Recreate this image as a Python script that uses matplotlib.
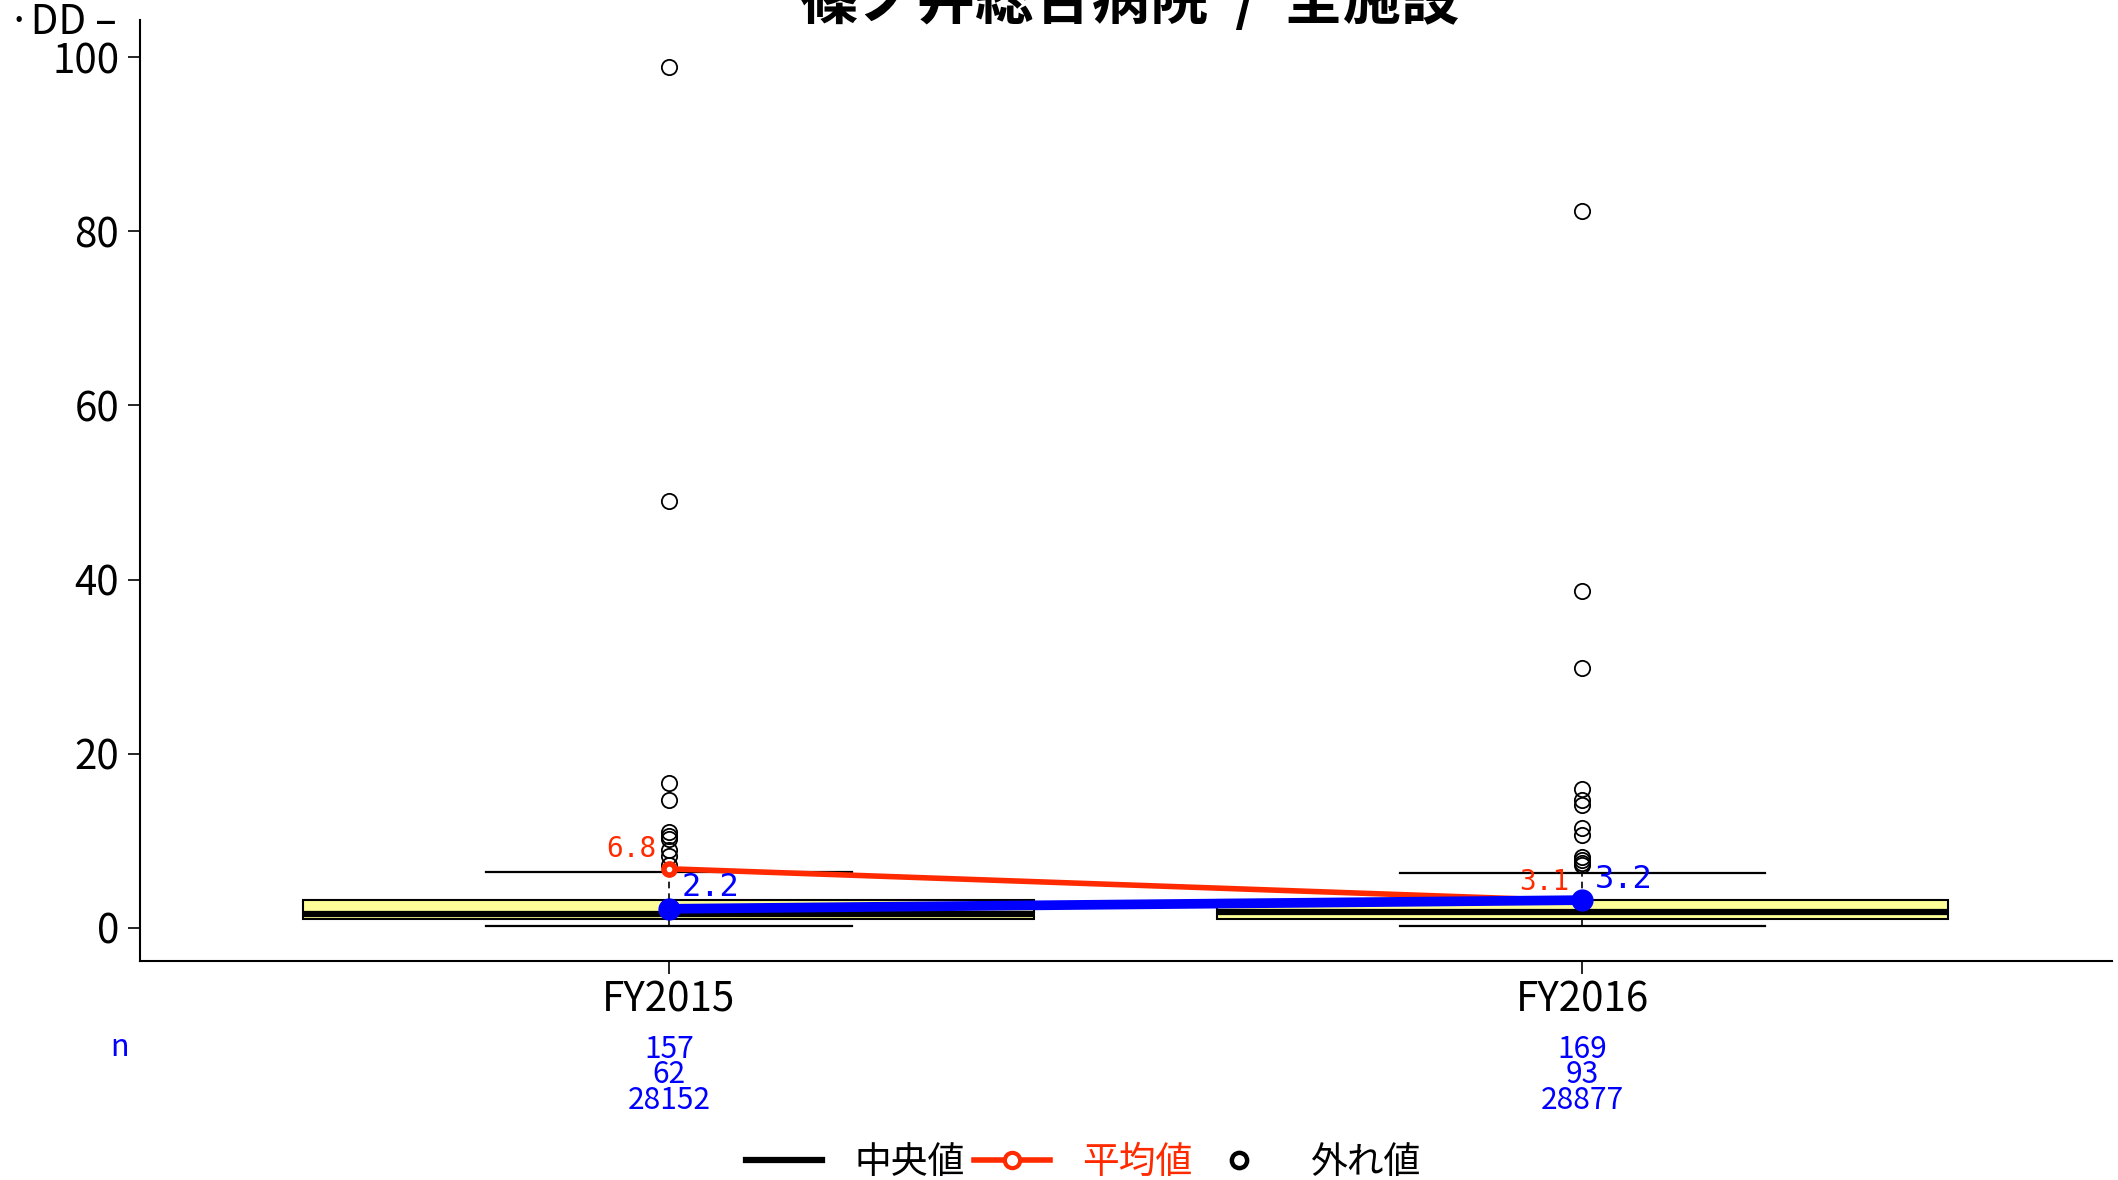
import matplotlib
matplotlib.use("Agg")
import matplotlib.pyplot as plt
from matplotlib.lines import Line2D

plt.rcParams['font.family'] = ['Liberation Sans Narrow', 'Noto Sans CJK JP', 'DejaVu Sans']

# ---- data ----
categories = ["FY2015", "FY2016"]
q1 = [1.0, 1.0]
median = [1.6, 1.8]
q3 = [3.2, 3.2]
whisker_lo = [0.2, 0.2]
whisker_hi = [6.4, 6.3]
outliers_2015 = [98.8, 49.0, 16.6, 14.7, 11.0, 10.6, 10.2, 9.0, 8.3, 7.2]
outliers_2016 = [82.3, 38.7, 29.9, 16.0, 14.7, 14.1, 11.5, 10.7, 8.2, 7.8, 7.5, 7.2]
mean_all = [6.8, 3.1]        # 平均値 (red)
hospital = [2.2, 3.2]        # 病院 (blue)
n_line1 = ["157", "169"]
n_line2 = ["62", "93"]
n_line3 = ["28152", "28877"]
title = "篠ノ井総合病院  /  全施設"
yticks = [0, 20, 40, 60, 80, 100]

RED = "#ff2a00"
BLUE = "#0000ff"

fig = plt.figure(figsize=(21.18, 11.80), dpi=100)
ax = fig.add_axes([140 / 2118, 1 - 961 / 1180, (2112 - 140) / 2118, (961 - 20) / 1180])

positions = [1, 2]
stats = []
for i, cat in enumerate(categories):
    stats.append(dict(med=median[i], q1=q1[i], q3=q3[i], whislo=whisker_lo[i],
                      whishi=whisker_hi[i],
                      fliers=[outliers_2015, outliers_2016][i], label=cat))

ax.bxp(stats, positions=positions, widths=0.8, capwidths=0.4, patch_artist=True,
       showfliers=True,
       boxprops=dict(facecolor="#ffff99", edgecolor="black", linewidth=1.5),
       medianprops=dict(color="black", linewidth=4.5, solid_capstyle="butt"),
       whiskerprops=dict(color="black", linestyle=(0, (4, 3)), linewidth=1.2),
       capprops=dict(color="black", linewidth=1.6),
       flierprops=dict(marker="o", markerfacecolor="none", markeredgecolor="black",
                       markersize=11, markeredgewidth=1.3, linestyle="none"))

# mean line (red)
ax.plot(positions, mean_all, color=RED, linewidth=4, zorder=5)
ax.plot(positions, mean_all, linestyle="none", marker="o", markersize=11,
        markerfacecolor=RED, markeredgecolor=RED, zorder=6)
ax.plot(positions, mean_all, linestyle="none", marker="o", markersize=3,
        markerfacecolor="white", markeredgecolor="white", zorder=7)
# hospital line (blue)
ax.plot(positions, hospital, color=BLUE, linewidth=7, marker="o", markersize=15,
        markerfacecolor=BLUE, markeredgecolor=BLUE, zorder=8)

for x, v in zip(positions, mean_all):
    ax.annotate(f"{v:.1f}", (x, v), xytext=(-9, 14), textcoords="offset points",
                ha="right", va="center", color=RED, fontsize=20,
                family=["DejaVu Sans Mono"], zorder=9)
for x, v in zip(positions, hospital):
    ax.annotate(f"{v:.1f}", (x, v), xytext=(9, 15), textcoords="offset points",
                ha="left", va="center", color=BLUE, fontsize=23,
                family=["DejaVu Sans Mono"], zorder=9)

ax.set_xlim(0.421, 2.58)
ax.set_ylim(-3.79, 104.25)
ax.set_yticks(yticks)
ax.set_xticks(positions)
ax.set_xticklabels(categories)
ax.tick_params(axis="both", labelsize=29, length=9, width=1.2, colors="black")
ax.tick_params(axis="x", pad=4)
ax.tick_params(axis="y", pad=6)
for s in ["top", "right"]:
    ax.spines[s].set_visible(False)
for s in ["left", "bottom"]:
    ax.spines[s].set_linewidth(1.5)

# n labels
fig.text(120 / 2118, 1 - 1048 / 1180, "n", color=BLUE, fontsize=22, ha="center", va="center")
for i, x in enumerate(positions):
    xf = ax.transData.transform((x, 0))[0] / fig.bbox.width
    for j, lab in enumerate([n_line1[i], n_line2[i], n_line3[i]]):
        yf = 1 - (1049 + 25.8 * j) / 1180
        fig.text(xf, yf, lab, color=BLUE, fontsize=21.5, ha="center", va="center")

# title (cut off at top like the reference)
fig.text(1130 / 2118, 1 - 19 / 1180, title, fontsize=42, fontweight="bold",
         ha="center", va="baseline", family=["Noto Sans CJK JP", "DejaVu Sans"])

# top-left y label fragment
fig.text(8 / 2118, 1 - 22 / 1180, "·DD –", fontsize=29, ha="left", va="center")

# legend
handles = [
    Line2D([], [], color="black", linewidth=4.5),
    Line2D([], [], color=RED, linewidth=4, marker="o", markersize=11,
           markerfacecolor="white", markeredgecolor=RED, markeredgewidth=3),
    Line2D([], [], color="black", linestyle="none", marker="o", markersize=11,
           markerfacecolor="white", markeredgewidth=3.2),
]
leg = fig.legend(handles, ["中央値", "平均値", "外れ値"], loc="center",
                 bbox_to_anchor=(1083 / 2118, 1 - 1162 / 1180), ncol=3, frameon=False,
                 fontsize=26, handlelength=2.1, handletextpad=0.9, columnspacing=0.25)
for t, c in zip(leg.get_texts(), ["black", RED, "black"]):
    t.set_color(c)
    t.set_fontfamily(["Noto Sans CJK JP", "DejaVu Sans"])
    t.set_fontsize(26.5)

fig.savefig("out.png", dpi=100)
